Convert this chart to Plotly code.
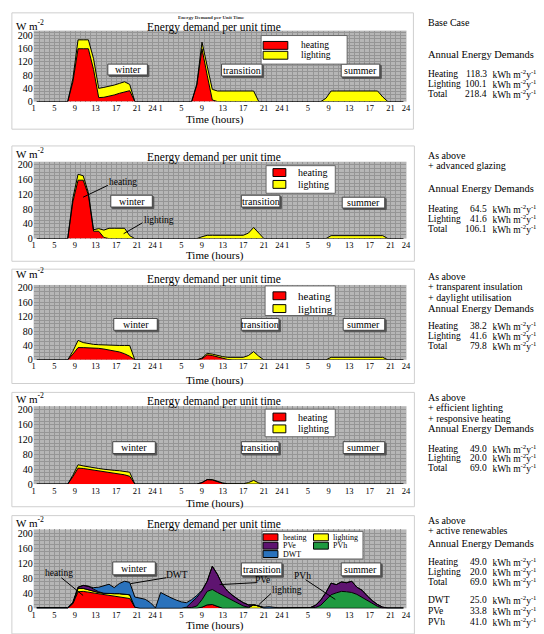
import plotly.graph_objects as go

FONT = "Liberation Serif"
W, H = 544, 634


def X(p):
    return p / W


def Y(p):
    return 1 - p / H


# ---------------- data ----------------
HOURS = list(range(1, 73))
DAY_TICKS = [1, 5, 9, 13, 17, 21, 24]
DAY_TICK_SHIFT = [-0.6, 0.0, 0.5]          # label placement as printed in the source
TICK_VALS = [d * 24 + t + DAY_TICK_SHIFT[d] for d in range(3) for t in DAY_TICKS]
TICK_TEXT = [str(t) for d in range(3) for t in DAY_TICKS]
Y_TICKS = [0, 40, 80, 120, 160, 200]
SEASONS = ["winter", "transition", "summer"]

# Base case
P1_HEATING = ([0, 0, 0, 0, 0, 0, 0, 60, 160, 160, 160, 97, 12, 13, 16, 20, 25, 30, 33, 0, 0, 0, 0, 0]
              + [0] * 7 + [50, 160, 80, 5] + [0] * 13
              + [0] * 24)
P1_LIGHTING = ([0] * 7 + [10, 27, 27, 27, 33, 28, 30, 30, 30, 30, 30, 19] + [0] * 5
               + [0] * 7 + [3, 20, 28, 32, 32, 32, 32, 32, 32, 32, 32, 32] + [0] * 5
               + [0] * 8 + [10] + [32] * 10 + [14] + [0] * 4)
# + advanced glazing
P2_HEATING = ([0] * 7 + [100, 158, 158, 118, 20, 20, 3] + [0] * 10
              + [0] * 24
              + [0] * 24)
P2_LIGHTING = ([0] * 7 + [10, 16, 12, 6, 4, 7, 20, 28, 28, 28, 28, 8] + [0] * 5
               + [0] * 8 + [5, 9, 9, 9, 9, 9, 9, 9, 9, 15, 30, 15] + [0] * 4
               + [0] * 9 + [8] * 11 + [0] * 4)
# + transparent insulation + daylight utilisation
P3_HEATING = ([0] * 7 + [16, 34, 34, 34, 34, 32, 30, 28, 26, 22, 17, 10] + [0] * 5
              + [0] * 8 + [3, 14, 12, 8, 4, 1] + [0] * 10
              + [0] * 24)
P3_LIGHTING = ([0] * 7 + [8, 20, 14, 11, 9, 10, 11, 12, 14, 18, 23, 30] + [0] * 5
               + [0] * 8 + [2, 4, 4, 4, 5, 6, 7, 7, 7, 12, 23, 10] + [0] * 4
               + [0] * 9 + [7] * 11 + [0] * 4)
# + efficient lighting + responsive heating
P4_HEATING = ([0] * 7 + [20, 43, 42, 40, 39, 37, 35, 33, 31, 28, 25, 21] + [0] * 5
              + [0] * 8 + [4, 12, 11, 6, 2] + [0] * 11
              + [0] * 24)
P4_LIGHTING = ([0] * 7 + [4, 9, 7, 6, 5, 5, 5, 5, 6, 8, 9, 11] + [0] * 5
               + [0] * 10 + [1, 1, 1, 1, 1, 1, 1, 4, 10, 3] + [0] * 4
               + [0] * 9 + [2] * 11 + [0] * 4)
# + active renewables
P5_HEATING = ([0] * 7 + [12, 44, 45, 43, 41, 39, 37, 35, 33, 31, 29, 26, 3] + [0] * 4
              + [0] * 8 + [3, 9, 10, 6] + [0] * 12
              + [0] * 24)
P5_LIGHTING = ([0] * 7 + [2, 9, 8, 6, 4, 3, 3, 4, 6, 8, 9, 10, 0] + [0] * 4
               + [0] * 17 + [1, 9, 6] + [0] * 4
               + [0] * 24)
P5_PVH = ([0] * 24
          + [0] * 6 + [2, 6, 20, 36, 40, 36, 35, 28, 20, 12, 6, 2] + [0] * 6
          + [0] * 6 + [2, 8, 21, 36, 41, 45, 44, 42, 37, 29, 21, 13, 5] + [0] * 5)
P5_PVE = ([0] * 8 + [3, 8, 10, 6, 2] + [0] * 11
          + [0] * 5 + [3, 13, 23, 23, 27, 62, 48, 27, 17, 13, 11, 9, 6] + [0] * 6
          + [0] * 5 + [2, 6, 14, 21, 31, 22, 25, 24, 30, 19, 19, 12, 7, 5, 3] + [0] * 4)
P5_DWT = ([2] * 8 + [0, 0, 0, 4, 12, 20, 25, 16, 27, 34, 33, 27, 27, 24, 15, 1]
          + [42, 34, 28, 22, 17, 12, 8, 5, 2] + [0] * 10 + [1, 3, 4, 2, 1]
          + [1] * 5 + [0] * 15 + [1] * 4)

COLORS = {"heating": "#ff0000", "lighting": "#ffff00", "PVe": "#5e1470",
          "DWT": "#2a72bc", "PVh": "#1f9a40"}

CASE_TEXT = [
    ["Base Case"],
    ["As above", "+ advanced glazing"],
    ["As above", "+ transparent insulation", "+ daylight utilisation"],
    ["As above", "+ efficient lighting", "+ responsive heating"],
    ["As above", "+ active renewables"],
]
DEMAND_LABELS = [["Heating", "Lighting", "Total"]] * 4 + [["Heating", "Lighting", "Total", "DWT", "PVe", "PVh"]]
DEMAND_VALUES = [
    ["118.3", "100.1", "218.4"],
    ["64.5", "41.6", "106.1"],
    ["38.2", "41.6", "79.8"],
    ["49.0", "20.0", "69.0"],
    ["49.0", "20.0", "69.0", "25.0", "33.8", "41.0"],
]

SERIES = [
    [("heating", P1_HEATING), ("lighting", P1_LIGHTING)],
    [("heating", P2_HEATING), ("lighting", P2_LIGHTING)],
    [("heating", P3_HEATING), ("lighting", P3_LIGHTING)],
    [("heating", P4_HEATING), ("lighting", P4_LIGHTING)],
    [("heating", P5_HEATING), ("lighting", P5_LIGHTING), ("PVh", P5_PVH),
     ("PVe", P5_PVE), ("DWT", P5_DWT)],
]

# ---------------- layout (pixel positions) ----------------
LAYOUT = [
    dict(frame=(10, 10, 416, 128), top=28, bottom=100, ymax=215, title=25, unit=22, time=118,
         seasons=[(107, 62, 147, 73), (222, 62, 263, 74), (343, 62, 382, 75)],
         legend=dict(box=(262, 33, 349, 62), sw=(264, 289), rows=[43, 53], tx=300, fs=9.5, sh=8),
         right=[20], demand=52, rows=[72, 82, 92]),
    dict(frame=(10, 145, 417, 262), top=161, bottom=239, ymax=208, title=157, unit=152, time=256,
         seasons=[(110, 195, 152, 207), (242, 195, 281, 207), (344, 197, 387, 208)],
         legend=dict(box=(267, 165, 337, 193), sw=(274, 287), rows=[172, 184], tx=297, fs=10, sh=8),
         right=[155, 165], demand=188, rows=[209, 219, 229]),
    dict(frame=(10, 270, 417, 386), top=286, bottom=362, ymax=208, title=280, unit=274, time=383,
         seasons=[(113, 320, 157, 332), (242, 320, 280, 332), (345, 320, 387, 332)],
         legend=dict(box=(266, 287, 337, 317), sw=(274, 287), rows=[297, 310], tx=297, fs=11, sh=8),
         right=[277, 288, 299], demand=310, rows=[328, 338, 348]),
    dict(frame=(10, 395, 417, 511), top=409, bottom=488, ymax=210, title=404, unit=401, time=508,
         seasons=[(112, 445, 155, 457), (242, 445, 280, 457), (345, 445, 387, 457)],
         legend=dict(box=(266, 412, 337, 440), sw=(274, 287), rows=[420, 432], tx=297, fs=10, sh=8),
         right=[400, 410, 421], demand=432, rows=[452, 462, 472]),
    dict(frame=(10, 520, 417, 640), top=534, bottom=614, ymax=210, title=529, unit=526, time=631,
         seasons=[(112, 567, 155, 580), (242, 568, 283, 581), (343, 568, 383, 581)],
         legend=None,
         right=[525, 535], demand=548, rows=[567, 577, 587, 606, 617, 628]),
]

fig = go.Figure()
shapes = []
annotations = []


def text(x, y, s, size=10, anchor="left", color="black"):
    annotations.append(dict(x=X(x), y=Y(y), xref="paper", yref="paper", text=s,
                            showarrow=False, xanchor=anchor, yanchor="middle",
                            font=dict(family=FONT, size=size, color=color)))


def rect(x0, y0, x1, y1, fill="white", line="#444444", width=1, layer="above"):
    shapes.append(dict(type="rect", xref="paper", yref="paper", x0=X(x0), x1=X(x1),
                       y0=Y(y0), y1=Y(y1), fillcolor=fill,
                       line=dict(color=line, width=width), layer=layer))


def line(x0, y0, x1, y1):
    shapes.append(dict(type="line", xref="paper", yref="paper", x0=X(x0), x1=X(x1),
                       y0=Y(y0), y1=Y(y1), line=dict(color="black", width=1), layer="above"))


UNIT = " kWh m<sup>-2</sup>y<sup>-1</sup>"

for i, (series, L) in enumerate(zip(SERIES, LAYOUT)):
    n = i + 1
    xa = "x" if n == 1 else f"x{n}"
    ya = "y" if n == 1 else f"y{n}"
    for name, vals in series:
        fig.add_trace(go.Scatter(x=HOURS, y=vals, name=name, mode="lines",
                                 stackgroup=f"g{n}", fillcolor=COLORS[name],
                                 line=dict(color="black", width=1),
                                 xaxis=xa, yaxis=ya, showlegend=False, hoverinfo="skip"))
    fig.update_layout({
        f"xaxis{'' if n == 1 else n}": dict(
            domain=[X(32), X(409)], range=[0.4, 72.6], anchor=ya,
            tickmode="array", tickvals=TICK_VALS, ticktext=TICK_TEXT, tickangle=0,
            showgrid=False, zeroline=False, showline=False, ticks="",
            tickfont=dict(family=FONT, size=8.5, color="black"),
            minor=dict(dtick=1, tick0=0.5, showgrid=True, gridcolor="#959595", gridwidth=1),
            fixedrange=True),
        f"yaxis{'' if n == 1 else n}": dict(
            domain=[Y(L["bottom"]), Y(L["top"])], range=[0, L["ymax"]], anchor=xa,
            tickmode="array", tickvals=Y_TICKS, ticktext=[str(v) for v in Y_TICKS],
            showgrid=False, zeroline=False, showline=False, ticks="",
            tickfont=dict(family=FONT, size=10, color="black"),
            minor=dict(dtick=10, tick0=0, showgrid=True, gridcolor="#959595", gridwidth=1),
            fixedrange=True),
    })

    fx0, fy0, fx1, fy1 = L["frame"]
    rect(fx0, fy0, fx1, fy1, fill="rgba(0,0,0,0)", line="#cfcfcf", layer="below")

    text(214, L["title"], "Energy demand per unit time", size=11.5, anchor="center")
    text(12, L["unit"], "W m<sup>-2</sup>", size=11)
    text(215, L["time"], "Time (hours)", size=11, anchor="center")

    for (sx0, sy0, sx1, sy1), s in zip(L["seasons"], SEASONS):
        rect(sx0 + 1.5, sy0 + 1.5, sx1 + 1.5, sy1 + 1.5, fill="#555555", line="#555555")
        rect(sx0, sy0, sx1, sy1, fill="white", line="#444444")
        text((sx0 + sx1) / 2, (sy0 + sy1) / 2, s, size=10, anchor="center")

    lg = L["legend"]
    if lg:
        rect(*lg["box"], fill="white", line="#666666")
        for (name, _), ry in zip(series, lg["rows"]):
            rect(lg["sw"][0], ry - lg["sh"] / 2, lg["sw"][1], ry + lg["sh"] / 2,
                 fill=COLORS[name], line="black")
            text(lg["tx"], ry, name, size=lg["fs"])

    for s, ry in zip(CASE_TEXT[i], L["right"]):
        text(429, ry, s, size=10)
    text(429, L["demand"], "Annual Energy Demands", size=10.5)
    for lab, val, ry in zip(DEMAND_LABELS[i], DEMAND_VALUES[i], L["rows"]):
        text(429, ry, lab, size=9.5)
        text(492, ry, val, size=9.5, anchor="right")
        text(491, ry, UNIT, size=9.5)

# tiny scanned sub-title of the first panel
text(212, 15, "<b>Energy Demand per Unit Time</b>", size=5, anchor="center", color="#333333")

# panel 5 legend (two columns)
rect(263, 536, 365, 564, fill="white", line="#666666")
for name, sx, ry in [("heating", 264, 542), ("lighting", 315, 542), ("PVe", 264, 550.5),
                     ("PVh", 315, 550.5), ("DWT", 264, 559)]:
    rect(sx, ry - 3.5, sx + 15, ry + 3.5, fill=COLORS[name], line="black")
    text(sx + 18, ry, name, size=8)

# call-outs
for s, tx, ty, l in [
    ("heating", 122, 182, (107, 185, 82, 197)),
    ("lighting", 159, 220, (142, 223, 123, 234)),
    ("heating", 58, 578, (60, 583, 82, 601)),
    ("DWT", 177, 580, (166, 583, 130, 589)),
    ("PVe", 263, 585, (257, 588, 220, 590)),
    ("lighting", 288, 595, (272, 599, 260, 610)),
    ("PVh", 304, 581, (307, 585, 337, 605)),
]:
    text(tx, ty, s, size=9.5, anchor="center")
    line(*l)

fig.update_layout(width=W, height=H, autosize=False,
                  margin=dict(l=0, r=0, t=0, b=0),
                  paper_bgcolor="white", plot_bgcolor="#b6b6b6",
                  shapes=shapes, annotations=annotations, showlegend=False,
                  font=dict(family=FONT, color="black"))

fig.write_html("out.html", config={"displayModeBar": False},
               post_script="document.body.style.margin='0';document.body.style.padding='0';")
